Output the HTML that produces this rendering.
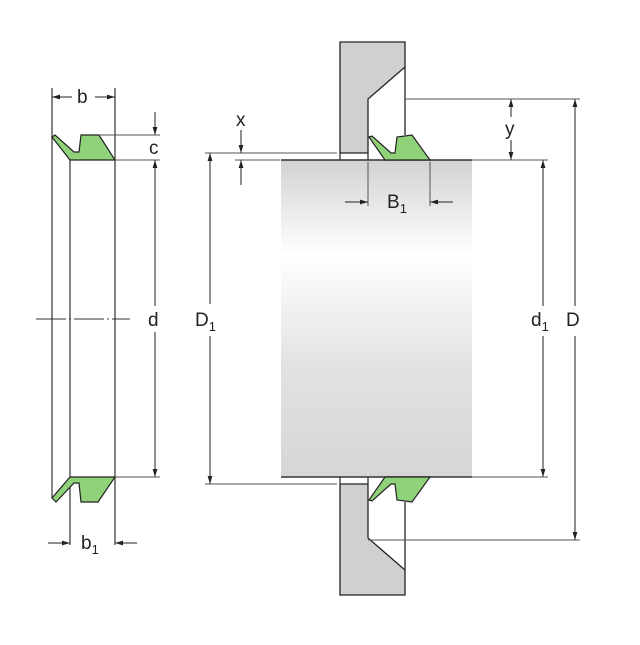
<!DOCTYPE html>
<html><head><meta charset="utf-8"><style>
html,body{margin:0;padding:0;background:#fff;}
svg{display:block;}
text{font-family:"Liberation Sans",sans-serif;fill:#222;}
</style></head><body>
<svg width="640" height="645" viewBox="0 0 640 645" xmlns="http://www.w3.org/2000/svg">
<defs>
<linearGradient id="g" x1="0" y1="0" x2="0" y2="1">
<stop offset="0" stop-color="#d2d2d2"/>
<stop offset="0.3" stop-color="#ffffff"/>
<stop offset="0.65" stop-color="#e2e2e2"/>
<stop offset="1" stop-color="#d6d6d6"/>
</linearGradient>
<marker id="a" viewBox="0 0 10 10" refX="10" refY="5" markerWidth="8" markerHeight="8" orient="auto-start-reverse" markerUnits="userSpaceOnUse"><path d="M0,2 L10,5 L0,8 z" fill="#222"/></marker>
</defs>
<rect x="281" y="160" width="191" height="317" fill="url(#g)"/>
<path d="M340,42 L405,42 L405,67 L368,99 L368,153 L340,153 Z" fill="#d0d0d0" stroke="#222" stroke-width="1.3"/>
<path d="M340,153 L340,160 M368,153 L368,160" stroke="#222" stroke-width="1.2"/>
<path d="M405,67 L405,135" stroke="#222" stroke-width="1.3"/>
<path d="M340,595 L405,595 L405,570 L368,538 L368,484 L340,484 Z" fill="#d0d0d0" stroke="#222" stroke-width="1.3"/>
<path d="M340,484 L340,477 M368,484 L368,477" stroke="#222" stroke-width="1.2"/>
<path d="M405,570 L405,502" stroke="#222" stroke-width="1.3"/>
<line x1="281" y1="160" x2="472" y2="160" stroke="#333" stroke-width="1.5"/>
<line x1="281" y1="477" x2="472" y2="477" stroke="#333" stroke-width="1.5"/>
<path d="M369,137 L372,136 L391,153 L395,153 L397,137 L412,135 L430,160 L385,160 Z" fill="#8fd27a" stroke="#222" stroke-width="1.2"/>
<path d="M369,500 L372,501 L391,484 L395,484 L397,500 L412,502 L430,477 L385,477 Z" fill="#8fd27a" stroke="#222" stroke-width="1.2"/>
<g stroke="#333" stroke-width="1.2" fill="none">
<line x1="52" y1="88" x2="52" y2="498"/>
<line x1="70" y1="160" x2="70" y2="545"/>
<line x1="115" y1="88" x2="115" y2="545"/>
<line x1="36" y1="319" x2="130" y2="319" stroke-dasharray="30,3,2,3" stroke-width="0.9"/>
</g>
<path d="M52,137 L55,135 L74,152 L79,152 L81,135 L99,135 L115,160 L70,160 Z" fill="#8fd27a" stroke="#222" stroke-width="1.2"/>
<path d="M52,498 L56,502 L74,483 L79,483 L81,502 L98,502 L115,477 L70,477 Z" fill="#8fd27a" stroke="#222" stroke-width="1.2"/>
<g stroke="#555" stroke-width="1" fill="none">
<line x1="99" y1="135" x2="160" y2="135"/>
<line x1="115" y1="160" x2="160" y2="160"/>
<line x1="115" y1="477" x2="160" y2="477"/>
<line x1="205" y1="153" x2="337" y2="153"/>
<line x1="235" y1="160" x2="280" y2="160"/>
<line x1="205" y1="484" x2="337" y2="484"/>
<line x1="405" y1="99" x2="580" y2="99"/>
<line x1="472" y1="160" x2="548" y2="160"/>
<line x1="472" y1="477" x2="548" y2="477"/>
<line x1="368" y1="540" x2="580" y2="540"/>
<line x1="368" y1="162" x2="368" y2="206"/>
<line x1="430" y1="162" x2="430" y2="206"/>
</g>
<g stroke="#222" stroke-width="1" fill="none">
<line x1="52" y1="97" x2="72" y2="97" marker-start="url(#a)"/>
<line x1="95" y1="97" x2="115" y2="97" marker-end="url(#a)"/>
<line x1="48" y1="543" x2="70" y2="543" marker-end="url(#a)"/>
<line x1="115" y1="543" x2="137" y2="543" marker-start="url(#a)"/>
<line x1="155" y1="112" x2="155" y2="135" marker-end="url(#a)"/>
<line x1="155" y1="160" x2="155" y2="306" marker-start="url(#a)"/>
<line x1="155" y1="332" x2="155" y2="477" marker-end="url(#a)"/>
<line x1="210" y1="153" x2="210" y2="304" marker-start="url(#a)"/>
<line x1="210" y1="336" x2="210" y2="484" marker-end="url(#a)"/>
<line x1="241" y1="130" x2="241" y2="153" marker-end="url(#a)"/>
<line x1="241" y1="160" x2="241" y2="185" marker-start="url(#a)"/>
<line x1="345" y1="202" x2="368" y2="202" marker-end="url(#a)"/>
<line x1="430" y1="202" x2="453" y2="202" marker-start="url(#a)"/>
<line x1="511" y1="99" x2="511" y2="117" marker-start="url(#a)"/>
<line x1="511" y1="140" x2="511" y2="160" marker-end="url(#a)"/>
<line x1="543" y1="160" x2="543" y2="306" marker-start="url(#a)"/>
<line x1="543" y1="336" x2="543" y2="477" marker-end="url(#a)"/>
<line x1="575" y1="99" x2="575" y2="306" marker-start="url(#a)"/>
<line x1="575" y1="336" x2="575" y2="540" marker-end="url(#a)"/>
</g>
<g font-size="19">
<text x="77" y="103">b</text>
<text x="81" y="549">b<tspan font-size="13" dy="5">1</tspan></text>
<text x="149" y="154">c</text>
<text x="148" y="326">d</text>
<text x="195" y="326">D<tspan font-size="13" dy="5">1</tspan></text>
<text x="236" y="126">x</text>
<text x="387" y="208">B<tspan font-size="13" dy="5">1</tspan></text>
<text x="505" y="135">y</text>
<text x="531" y="326">d<tspan font-size="13" dy="5">1</tspan></text>
<text x="566" y="326">D</text>
</g>
</svg>
</body></html>
